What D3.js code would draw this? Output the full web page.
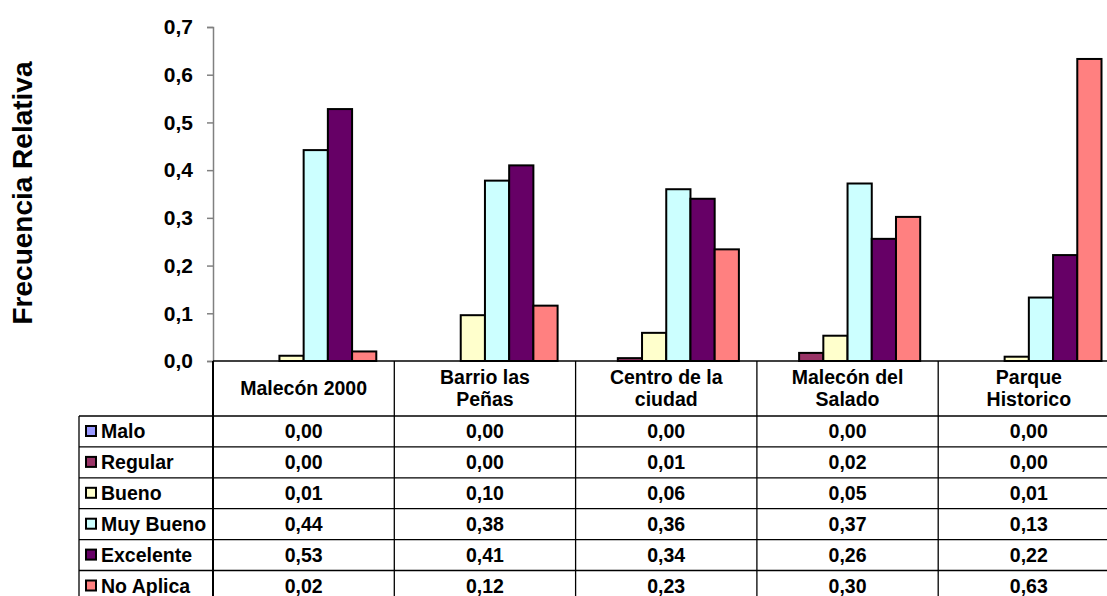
<!DOCTYPE html>
<html>
<head>
<meta charset="utf-8">
<script src="https://cdn.jsdelivr.net/npm/d3@7"></script>
<style>
  body { margin: 0; background: #fff; }
  svg { display: block; font-family: Arial, "Liberation Sans", sans-serif; font-weight: bold; }
</style>
</head>
<body>
<div class="chart-area"></div>
<script>
// categories (places) and their header labels
const categories = ["Malecón 2000", "Barrio las Peñas", "Centro de la ciudad", "Malecón del Salado", "Parque Historico"];
const categoryLabels = [["Malecón 2000"], ["Barrio las", "Peñas"], ["Centro de la", "ciudad"], ["Malecón del", "Salado"], ["Parque", "Historico"]];

// series names + colours
const seriesNames = ["Malo", "Regular", "Bueno", "Muy Bueno", "Excelente", "No Aplica"];
const seriesColors = ["#9999FF", "#993366", "#FFFFCC", "#CCFFFF", "#660066", "#FF8080"];

// values per series, one per category
const malo      = [0.000, 0.000, 0.000, 0.000, 0.000];
const regular   = [0.000, 0.000, 0.006, 0.017, 0.000];
const bueno     = [0.011, 0.096, 0.059, 0.053, 0.009];
const muyBueno  = [0.442, 0.378, 0.360, 0.372, 0.133];
const excelente = [0.528, 0.410, 0.340, 0.256, 0.222];
const noAplica  = [0.020, 0.116, 0.234, 0.302, 0.633];

const yTicks = [0, 0.1, 0.2, 0.3, 0.4, 0.5, 0.6, 0.7];

const seriesValues = [malo, regular, bueno, muyBueno, excelente, noAplica];

let width = 1107;
let height = 596;

const svg = d3.select(".chart-area").append("svg")
  .attr("width", width)
  .attr("height", height);

const locale = d3.formatLocale({decimal: ",", thousands: ".", grouping: [3], currency: ["", ""]});
const f1 = locale.format(".1f");
const f2 = locale.format(".2f");

const plotLeft = 213;
const colW = 181.3;
const fs = 19.5;

const x0 = d3.scaleBand()
  .domain(categories)
  .range([plotLeft, plotLeft + colW * categories.length]);

const x1 = d3.scaleBand()
  .domain(seriesNames)
  .range([18, x0.bandwidth() - 18]);

const y = d3.scaleLinear()
  .domain([0, 0.7])
  .range([361, 27]);

// rows of the data table
const rowY = d3.scaleBand()
  .domain(seriesNames)
  .range([416, 416 + 30.9 * seriesNames.length]);

// y axis
const yAxis = svg.append("g")
  .attr("transform", `translate(${plotLeft},0)`)
  .call(d3.axisLeft(y).tickValues(yTicks).tickFormat(f1).tickSize(6).tickPadding(14));
yAxis.select(".domain").attr("stroke", "#808080").attr("stroke-width", 1.5);
yAxis.selectAll(".tick line").attr("stroke", "#808080").attr("stroke-width", 1.5);
yAxis.selectAll(".tick text")
  .attr("font-size", 21)
  .attr("font-weight", "bold")
  .attr("font-family", "Arial, 'Liberation Sans', sans-serif")
  .attr("fill", "#000");

// y title
svg.append("text")
  .attr("transform", "translate(32,193) rotate(-90)")
  .attr("text-anchor", "middle")
  .attr("font-size", 28)
  .text("Frecuencia Relativa");

// bars
const bars = [];
seriesNames.forEach((s, i) => {
  categories.forEach((c, j) => {
    bars.push({series: s, cat: c, value: seriesValues[i][j], color: seriesColors[i]});
  });
});

svg.append("g")
  .selectAll("rect")
  .data(bars.filter(d => d.value > 0))
  .join("rect")
  .attr("x", d => x0(d.cat) + x1(d.series))
  .attr("y", d => y(d.value))
  .attr("width", x1.bandwidth())
  .attr("height", d => y(0) - y(d.value))
  .attr("fill", d => d.color)
  .attr("stroke", "#000")
  .attr("stroke-width", 2);

// baseline
svg.append("line")
  .attr("x1", plotLeft).attr("x2", width)
  .attr("y1", y(0)).attr("y2", y(0))
  .attr("stroke", "#000").attr("stroke-width", 1.3);

// table grid
const tableTop = rowY.range()[0];
const tableBottom = rowY.range()[1];
const grid = svg.append("g").attr("stroke", "#000");

seriesNames.forEach(s => {
  grid.append("line")
    .attr("x1", 79).attr("x2", width)
    .attr("y1", rowY(s)).attr("y2", rowY(s))
    .attr("stroke-width", 1.3);
});
grid.append("line")
  .attr("x1", 79).attr("x2", width)
  .attr("y1", tableBottom).attr("y2", tableBottom)
  .attr("stroke-width", 1.3);

grid.append("line")
  .attr("x1", 79).attr("x2", 79)
  .attr("y1", tableTop).attr("y2", tableBottom)
  .attr("stroke-width", 1.3);
grid.append("line")
  .attr("x1", plotLeft).attr("x2", plotLeft)
  .attr("y1", y(0)).attr("y2", tableBottom)
  .attr("stroke-width", 2);
categories.slice(1).forEach(c => {
  grid.append("line")
    .attr("x1", x0(c)).attr("x2", x0(c))
    .attr("y1", y(0)).attr("y2", tableBottom)
    .attr("stroke-width", 1.3);
});

// category headers
categories.forEach((c, j) => {
  const lines = categoryLabels[j];
  const t = svg.append("text")
    .attr("text-anchor", "middle")
    .attr("font-size", fs)
    .attr("x", x0(c) + x0.bandwidth() / 2)
    .attr("y", lines.length === 1 ? 395 : 384);
  lines.forEach((l, k) => {
    t.append("tspan")
      .attr("x", x0(c) + x0.bandwidth() / 2)
      .attr("dy", k === 0 ? 0 : 22)
      .text(l);
  });
});

// legend column + table values
seriesNames.forEach((s, i) => {
  svg.append("rect")
    .attr("x", 86).attr("y", rowY(s) + 10)
    .attr("width", 10).attr("height", 10)
    .attr("fill", seriesColors[i])
    .attr("stroke", "#000").attr("stroke-width", 2);
  svg.append("text")
    .attr("x", 101).attr("y", rowY(s) + 22)
    .attr("font-size", fs)
    .text(s);
  categories.forEach((c, j) => {
    svg.append("text")
      .attr("x", x0(c) + x0.bandwidth() / 2)
      .attr("y", rowY(s) + 22)
      .attr("text-anchor", "middle")
      .attr("font-size", fs)
      .text(f2(seriesValues[i][j]));
  });
});
</script>
</body>
</html>
